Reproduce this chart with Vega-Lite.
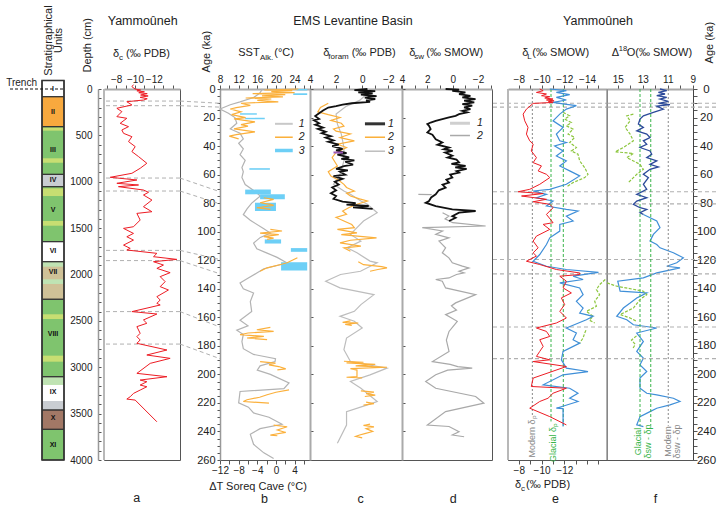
{
"$schema":"https://vega.github.io/schema/vega-lite/v6.json",
"padding":{"left":6,"top":5,"right":0,"bottom":0},
"config":{"font":"Liberation Sans","view":{"stroke":"#555","strokeWidth":1},
"axis":{"grid":false,"labelFont":"Liberation Sans","labelFontSize":10,"labelColor":"#222","tickColor":"#555","tickSize":4,"domainColor":"#aaa","domainWidth":2,"labelPadding":1,"labelFlush":false,"labelOverlap":false},
"text":{"font":"Liberation Sans","color":"#222"}},
"datasets":{
"strat":[{"unit":"I","top":-92,"bottom":83,"kind":"white","lab":-5},{"unit":"II","top":83,"bottom":406,"kind":"orange","lab":248},{"unit":"III","top":406,"bottom":920,"kind":"green","lab":658},{"unit":"IV","top":920,"bottom":1053,"kind":"grey","lab":981},{"unit":"V","top":1053,"bottom":1646,"kind":"green","lab":1305},{"unit":"VI","top":1646,"bottom":1862,"kind":"white","lab":1747},{"unit":"VII","top":1862,"bottom":2267,"kind":"tan","lab":1973},{"unit":"VIII","top":2267,"bottom":3102,"kind":"green","lab":2642},{"unit":"IX","top":3102,"bottom":3461,"kind":"white","lab":3267},{"unit":"X","top":3461,"bottom":3669,"kind":"brown","lab":3547},{"unit":"XI","top":3669,"bottom":4000,"kind":"green","lab":3838}],
"bands":[{"top":416,"bottom":449,"kind":"ygreen"},{"top":747,"bottom":795,"kind":"ygreen"},{"top":1071,"bottom":1154,"kind":"ygreen"},{"top":1423,"bottom":1474,"kind":"ygreen"},{"top":1862,"bottom":1916,"kind":"pgreen"},{"top":2052,"bottom":2102,"kind":"pgreen"},{"top":2429,"bottom":2480,"kind":"ygreen"},{"top":2875,"bottom":2940,"kind":"ygreen"},{"top":3102,"bottom":3191,"kind":"pgreen"},{"top":3364,"bottom":3461,"kind":"grey"}],
"ties":[{"depth":130,"age":10},{"depth":180,"age":12.7},{"depth":960,"age":72},{"depth":1100,"age":80.5},{"depth":1740,"age":119.5},{"depth":1850,"age":129.5},{"depth":2400,"age":166.8},{"depth":2750,"age":189}],
"a":[{"d":-47,"v":-9.84},{"d":-25,"v":-9.67},{"d":0,"v":-10.0},{"d":11,"v":-10.6},{"d":20,"v":-10.2},{"d":30,"v":-11.0},{"d":40,"v":-10.4},{"d":50,"v":-11.3},{"d":65,"v":-10.6},{"d":75,"v":-11.4},{"d":90,"v":-10.55},{"d":105,"v":-11.3},{"d":119,"v":-10.9},{"d":137,"v":-9.13},{"d":172,"v":-9.67},{"d":208,"v":-8.07},{"d":244,"v":-8.6},{"d":298,"v":-8.07},{"d":316,"v":-9.13},{"d":370,"v":-8.42},{"d":406,"v":-9.31},{"d":442,"v":-8.6},{"d":478,"v":-8.78},{"d":514,"v":-9.67},{"d":567,"v":-9.31},{"d":621,"v":-10.02},{"d":675,"v":-9.67},{"d":729,"v":-10.38},{"d":801,"v":-11.26},{"d":855,"v":-10.55},{"d":909,"v":-9.67},{"d":952,"v":-7.36},{"d":981,"v":-10.2},{"d":1017,"v":-8.07},{"d":1035,"v":-10.38},{"d":1053,"v":-8.24},{"d":1089,"v":-10.9},{"d":1114,"v":-11.44},{"d":1143,"v":-10.9},{"d":1197,"v":-11.8},{"d":1269,"v":-10.9},{"d":1323,"v":-11.8},{"d":1341,"v":-10.2},{"d":1413,"v":-10.55},{"d":1485,"v":-9.84},{"d":1503,"v":-8.78},{"d":1557,"v":-9.84},{"d":1593,"v":-9.13},{"d":1629,"v":-9.84},{"d":1683,"v":-8.78},{"d":1718,"v":-9.49},{"d":1736,"v":-9.13},{"d":1772,"v":-12.33},{"d":1808,"v":-11.97},{"d":1837,"v":-14.45},{"d":1862,"v":-11.97},{"d":1898,"v":-13.03},{"d":1934,"v":-12.33},{"d":1980,"v":-13.74},{"d":2023,"v":-12.68},{"d":2077,"v":-13.21},{"d":2131,"v":-12.68},{"d":2167,"v":-13.56},{"d":2239,"v":-12.33},{"d":2275,"v":-12.68},{"d":2311,"v":-12.33},{"d":2329,"v":-12.68},{"d":2400,"v":-9.67},{"d":2426,"v":-12.33},{"d":2490,"v":-10.9},{"d":2526,"v":-11.26},{"d":2562,"v":-10.2},{"d":2634,"v":-10.55},{"d":2670,"v":-10.2},{"d":2706,"v":-10.55},{"d":2742,"v":-10.2},{"d":2814,"v":-13.4},{"d":2868,"v":-11.26},{"d":2904,"v":-13.74},{"d":2958,"v":-11.62},{"d":3066,"v":-10.2},{"d":3102,"v":-13.4},{"d":3138,"v":-10.55},{"d":3156,"v":-11.26},{"d":3192,"v":-10.55},{"d":3210,"v":-11.26},{"d":3246,"v":-10.55},{"d":3282,"v":-9.84},{"d":3318,"v":-9.49},{"d":3343,"v":-9.13},{"d":3354,"v":-10.02},{"d":3588,"v":-12.33}],
"b_dt":[{"age":0,"t":-2.9},{"age":3,"t":-3.5},{"age":6,"t":-4.8},{"age":9,"t":-7.7},{"age":11,"t":-9.8},{"age":14,"t":-12},{"age":17,"t":-10.2},{"age":20,"t":-8.8},{"age":24,"t":-8.4},{"age":28,"t":-9.8},{"age":31,"t":-7.7},{"age":35,"t":-7.0},{"age":38,"t":-8.0},{"age":42,"t":-7.0},{"age":46,"t":-7.7},{"age":50,"t":-6.6},{"age":55,"t":-7.3},{"age":58,"t":-7.0},{"age":62,"t":-7.3},{"age":67,"t":-6.6},{"age":72,"t":-4.4},{"age":75,"t":-3.35},{"age":80,"t":-5.2},{"age":84,"t":-6.2},{"age":88,"t":-7.0},{"age":92,"t":-5.5},{"age":98,"t":-2.6},{"age":101,"t":-1.2},{"age":104,"t":-3.35},{"age":108,"t":-4.8},{"age":112,"t":-4.1},{"age":115,"t":-1.9},{"age":118,"t":0.25},{"age":122,"t":2.4},{"age":126,"t":-2.6},{"age":129,"t":-4.1},{"age":133,"t":-6.2},{"age":136,"t":-7.7},{"age":140,"t":-7.0},{"age":143,"t":-4.8},{"age":149,"t":-5.5},{"age":156,"t":-5.2},{"age":162,"t":-7.7},{"age":166,"t":-6.0},{"age":169,"t":-8.4},{"age":172,"t":-7.0},{"age":177,"t":-7.3},{"age":182,"t":-7.0},{"age":186,"t":-4.8},{"age":189,"t":-0.1},{"age":191,"t":-0.2},{"age":194,"t":-3.4},{"age":197,"t":-4.0},{"age":200,"t":-1.2},{"age":206,"t":2.8},{"age":210,"t":1.7},{"age":212,"t":-7.7},{"age":220,"t":-8.0},{"age":223,"t":-5.9},{"age":227,"t":-4.8},{"age":230,"t":-1.5},{"age":235,"t":1.3},{"age":238,"t":-3.4},{"age":242,"t":-5.5},{"age":249,"t":-4.8},{"age":255,"t":-2.6},{"age":259,"t":-0.5}],
"b_sst":[{"s":1,"age":0,"v":24.8},{"s":1,"age":0.7,"v":17.5},{"s":1,"age":1.2,"v":23.5},{"s":1,"age":1.8,"v":19},{"s":1,"age":2.5,"v":24},{"s":1,"age":3.2,"v":15},{"s":1,"age":4,"v":22},{"s":1,"age":4.8,"v":17},{"s":1,"age":5.5,"v":21.5},{"s":1,"age":6.3,"v":13.5},{"s":1,"age":7,"v":19},{"s":1,"age":8,"v":16},{"s":1,"age":9,"v":20.5},{"s":1,"age":10,"v":12.5},{"s":1,"age":11.5,"v":14.5},{"s":1,"age":13,"v":11.5},{"s":1,"age":14,"v":10.2},{"s":1,"age":16,"v":12.5},{"s":1,"age":18,"v":10.5},{"s":1,"age":20,"v":13.5},{"s":1,"age":21,"v":11},{"s":1,"age":23,"v":15.5},{"s":1,"age":25,"v":12.5},{"s":1,"age":26,"v":14},{"s":1,"age":28,"v":11},{"s":1,"age":30,"v":15.5},{"s":1,"age":32,"v":11.5},{"s":1,"age":33,"v":10},{"s":1,"age":35,"v":12},
{"s":2,"age":76.2,"v":17.4},{"s":2,"age":77.3,"v":19.5},{"s":2,"age":79.7,"v":16.6},{"s":2,"age":80.8,"v":18.8},{"s":2,"age":81.5,"v":19.5},{"s":2,"age":83.2,"v":15.9},{"s":2,"age":84.4,"v":18.8},
{"s":3,"age":98.4,"v":18.8},{"s":3,"age":99.5,"v":21.3},{"s":3,"age":101,"v":16.6},{"s":3,"age":102,"v":20.6},{"s":3,"age":103.5,"v":17.4},{"s":3,"age":104.5,"v":19.5},{"s":3,"age":105.4,"v":18.1},
{"s":4,"age":118.3,"v":24.6},{"s":4,"age":120,"v":23.5},{"s":4,"age":121.8,"v":22.4},{"s":4,"age":123,"v":21},{"s":4,"age":125.3,"v":18.1},{"s":4,"age":127.7,"v":16.6},
{"s":5,"age":167.1,"v":18.8},{"s":5,"age":168.7,"v":15.9},{"s":5,"age":169.9,"v":19.5},{"s":5,"age":171,"v":14},{"s":5,"age":172.2,"v":12.3},{"s":5,"age":173.4,"v":17.4},{"s":5,"age":174.5,"v":13.8},{"s":5,"age":175.7,"v":18.1},
{"s":6,"age":191,"v":16.6},{"s":6,"age":192.1,"v":19.9},{"s":6,"age":193.3,"v":18.5},{"s":6,"age":194.5,"v":20.6},{"s":6,"age":196.1,"v":22.1},{"s":6,"age":196.8,"v":20.3},
{"s":7,"age":210.8,"v":22.8},{"s":7,"age":212.5,"v":20},{"s":7,"age":214.3,"v":18.1},{"s":7,"age":216,"v":16.5},{"s":7,"age":217.8,"v":13.8},{"s":7,"age":219,"v":13},{"s":7,"age":220.2,"v":18.5},
{"s":8,"age":235.5,"v":19.5},{"s":8,"age":236.7,"v":22.4},{"s":8,"age":239,"v":20.3},{"s":8,"age":240.7,"v":22.1},{"s":8,"age":242.5,"v":18.8},{"s":8,"age":243,"v":20.3}],
"b_bars":[{"a1":0,"a2":1,"v1":24.4,"v2":26.7},{"a1":3,"a2":4.2,"v1":23.7,"v2":26.7},{"a1":17,"a2":18,"v1":12.3,"v2":15.9},{"a1":20.2,"a2":21.2,"v1":13.4,"v2":17.6},{"a1":55.5,"a2":56.6,"v1":14.3,"v2":18.7},{"a1":70.5,"a2":73.8,"v1":13.4,"v2":18.9},{"a1":73.8,"a2":77.3,"v1":16.6,"v2":21.9},{"a1":79.7,"a2":85.5,"v1":15.5,"v2":20},{"a1":105.4,"a2":108.3,"v1":17.6,"v2":21.1},{"a1":111.5,"a2":114.1,"v1":23.2,"v2":26.7},{"a1":121.4,"a2":127.2,"v1":21.1,"v2":26.7}],
"c_k":[{"age":0,"v":-0.4},{"age":0.8,"v":0.6},{"age":1.5,"v":-1.0},{"age":2.3,"v":0.3},{"age":3,"v":-0.8},{"age":4,"v":0.1},{"age":5,"v":-1.1},{"age":6,"v":-0.2},{"age":7,"v":-1.0},{"age":8,"v":-0.3},{"age":9,"v":-0.6},{"age":10,"v":0.8},{"age":11,"v":1.5},{"age":12,"v":2.0},{"age":13,"v":2.6},{"age":15,"v":3.0},{"age":17,"v":3.3},{"age":19,"v":3.6},{"age":21,"v":3.3},{"age":22,"v":3.7},{"age":24,"v":3.3},{"age":25,"v":3.6},{"age":27,"v":3.0},{"age":28,"v":3.4},{"age":30,"v":2.8},{"age":31,"v":3.1},{"age":33,"v":2.4},{"age":34,"v":2.8},{"age":36,"v":2.2},{"age":37,"v":2.6},{"age":39,"v":1.8},{"age":40,"v":2.3},{"age":42,"v":1.5},{"age":43,"v":2.0},{"age":45,"v":1.2},{"age":46,"v":1.9},{"age":48,"v":1.0},{"age":49,"v":1.6},{"age":50,"v":0.6},{"age":51,"v":1.3},{"age":53,"v":0.7},{"age":54,"v":1.4},{"age":56,"v":2.0},{"age":57,"v":1.1},{"age":58,"v":1.7},{"age":60,"v":1.3},{"age":61,"v":2.2},{"age":63,"v":1.5},{"age":65,"v":2.1},{"age":67,"v":1.8},{"age":69,"v":2.3},{"age":71,"v":2.0},{"age":73,"v":2.4},{"age":75,"v":2.0},{"age":77,"v":2.2},{"age":79,"v":1.5},{"age":80,"v":0.5},{"age":81,"v":1.2},{"age":82,"v":-0.5},{"age":83,"v":0.7},{"age":84,"v":-0.8}],
"c_o":[{"s":1,"age":10,"v":2.6},{"s":1,"age":13,"v":3.2},{"s":1,"age":16,"v":3.4},{"s":1,"age":18,"v":2.6},{"s":1,"age":20,"v":1.7},{"s":1,"age":22,"v":2.4},{"s":1,"age":24,"v":1.6},{"s":1,"age":26,"v":1.4},{"s":1,"age":28,"v":2.2},{"s":1,"age":29.5,"v":2.0},{"s":1,"age":31.5,"v":0.9},{"s":1,"age":34,"v":1.7},{"s":1,"age":36.3,"v":0.6},{"s":1,"age":38.7,"v":1.9},{"s":1,"age":41,"v":1.2},{"s":1,"age":44.5,"v":2.0},{"s":1,"age":48,"v":2.3},{"s":1,"age":51,"v":2.1},{"s":1,"age":54,"v":1.9},{"s":1,"age":58,"v":2.6},{"s":1,"age":61,"v":2.4},{"s":1,"age":64,"v":1.8},{"s":1,"age":66.8,"v":1.4},{"s":1,"age":69,"v":1.2},{"s":1,"age":71.5,"v":0.6},{"s":1,"age":73,"v":1.2},{"s":1,"age":75,"v":0.9},{"s":1,"age":77,"v":0.2},{"s":1,"age":78.5,"v":-0.4},{"s":1,"age":80.8,"v":0.4},{"s":1,"age":83,"v":1.0},{"s":1,"age":85.5,"v":1.5},{"s":1,"age":87.8,"v":1.2},{"s":1,"age":90,"v":2.0},{"s":1,"age":92.5,"v":1.4},{"s":1,"age":95,"v":0.8},{"s":1,"age":97.2,"v":0.6},{"s":1,"age":98.4,"v":1.9},{"s":1,"age":100.8,"v":0.4},{"s":1,"age":102,"v":1.6},{"s":1,"age":104.3,"v":-1.1},{"s":1,"age":106,"v":0.9},{"s":1,"age":107.8,"v":1.7},{"s":1,"age":110.1,"v":0.1},{"s":1,"age":111.3,"v":1.4},{"s":1,"age":113.7,"v":0.9},
{"s":2,"age":121,"v":0.3},{"s":2,"age":123.1,"v":-0.1},{"s":2,"age":124.5,"v":-1.5},{"s":2,"age":125.4,"v":-1.9},{"s":2,"age":126.5,"v":-1.2},{"s":2,"age":127.7,"v":-0.6},
{"s":3,"age":162.5,"v":0.9},{"s":3,"age":163.5,"v":1.5},{"s":3,"age":164,"v":0.3},{"s":3,"age":165,"v":1.3},{"s":3,"age":165.7,"v":0.8},
{"s":4,"age":190.8,"v":1.4},{"s":4,"age":191.5,"v":-0.1},{"s":4,"age":192,"v":1.2},{"s":4,"age":193,"v":-1.0},{"s":4,"age":194,"v":0.5},{"s":4,"age":195,"v":-1.9},{"s":4,"age":196,"v":0.9},{"s":4,"age":197,"v":0.4},{"s":4,"age":201.5,"v":0.4},{"s":4,"age":202,"v":1.2},{"s":4,"age":202.5,"v":0.0},
{"s":5,"age":211.5,"v":0.1},{"s":5,"age":212.5,"v":-0.9},{"s":5,"age":213.5,"v":-0.3},{"s":5,"age":214.5,"v":-1.0},{"s":5,"age":215.5,"v":-0.2},
{"s":6,"age":219.5,"v":-0.3},{"s":6,"age":220.5,"v":-0.9},{"s":6,"age":221.5,"v":-0.1},
{"s":7,"age":234.8,"v":-0.6},{"s":7,"age":235.8,"v":-0.1},{"s":7,"age":236.8,"v":-0.9},{"s":7,"age":238,"v":-0.3},{"s":7,"age":240,"v":-0.8},{"s":7,"age":241.5,"v":-0.2},{"s":7,"age":242.5,"v":0.2},{"s":7,"age":243.5,"v":0.5},{"s":7,"age":244.5,"v":0.0}],
"c_g":[{"age":0,"v":-0.5},{"age":4,"v":-0.3},{"age":8,"v":0.2},{"age":12,"v":1.2},{"age":17.6,"v":2.0},{"age":24.6,"v":1.9},{"age":31.6,"v":1.6},{"age":41,"v":1.4},{"age":50.4,"v":1.4},{"age":59.8,"v":1.7},{"age":66.8,"v":2.2},{"age":71.5,"v":1.4},{"age":73.8,"v":0.9},{"age":78.5,"v":0.1},{"age":80.8,"v":-0.4},{"age":86.7,"v":-1.15},{"age":92.5,"v":-0.1},{"age":97.2,"v":0.4},{"age":101.9,"v":0.9},{"age":106.6,"v":0.1},{"age":111.3,"v":1.16},{"age":114.8,"v":0.4},{"age":120.6,"v":-0.6},{"age":121.8,"v":-1.15},{"age":127.7,"v":0.13},{"age":130,"v":1.66},{"age":134.7,"v":2.8},{"age":139.4,"v":1.7},{"age":144.1,"v":-0.9},{"age":151.1,"v":0.1},{"age":155.8,"v":0.6},{"age":159.3,"v":1.7},{"age":162.8,"v":0.6},{"age":167.5,"v":0.0},{"age":174.5,"v":1.2},{"age":182.7,"v":1.4},{"age":191,"v":0.9},{"age":195.6,"v":-1.9},{"age":200.3,"v":-0.6},{"age":205,"v":0.9},{"age":209.7,"v":0.1},{"age":219,"v":-1.15},{"age":221.4,"v":-0.4},{"age":226.1,"v":1.2},{"age":235.5,"v":1.2},{"age":248.3,"v":1.9}],
"d_k":[{"age":0,"v":0.56},{"age":0.4,"v":-0.5},{"age":1.3,"v":0.03},{"age":2.4,"v":-1.0},{"age":3.6,"v":-0.5},{"age":4.8,"v":-1.4},{"age":5.9,"v":-0.76},{"age":7.1,"v":-1.8},{"age":8.2,"v":-0.9},{"age":9.4,"v":-1.7},{"age":10.6,"v":-0.76},{"age":11.7,"v":-1.54},{"age":12.9,"v":-0.9},{"age":14.1,"v":-1.4},{"age":15.3,"v":-0.76},{"age":16.4,"v":-1.15},{"age":17.6,"v":-0.5},{"age":18.8,"v":-0.23},{"age":19.9,"v":0.29},{"age":21.1,"v":0.82},{"age":22.3,"v":1.34},{"age":23.5,"v":1.74},{"age":24.6,"v":2.0},{"age":25.8,"v":1.87},{"age":28.1,"v":1.74},{"age":30.5,"v":2.0},{"age":32,"v":1.6},{"age":35.2,"v":1.34},{"age":37.5,"v":0.82},{"age":39,"v":1.2},{"age":41,"v":0.29},{"age":42.2,"v":0.7},{"age":43.4,"v":0.0},{"age":44.5,"v":0.6},{"age":46.8,"v":0.03},{"age":48,"v":0.4},{"age":49.5,"v":-0.3},{"age":51.5,"v":-0.5},{"age":52.5,"v":0.1},{"age":53.9,"v":-1.02},{"age":55,"v":-0.2},{"age":56,"v":-1.1},{"age":57.5,"v":-0.3},{"age":58.6,"v":-0.5},{"age":60,"v":0.2},{"age":62.1,"v":0.03},{"age":63.5,"v":0.5},{"age":65.6,"v":0.29},{"age":67,"v":0.8},{"age":69.1,"v":0.56},{"age":71,"v":1.1},{"age":73.8,"v":1.34},{"age":76,"v":1.7},{"age":78.5,"v":1.87},{"age":79.7,"v":2.13},{"age":82,"v":1.34},{"age":84.4,"v":0.03},{"age":85.5,"v":-1.81},{"age":86.7,"v":-0.5},{"age":89.1,"v":0.03},{"age":90.2,"v":-0.23},{"age":92.5,"v":0.29}],
"d_g":[{"s":1,"age":73.8,"v":2.71},{"s":1,"age":74.0,"v":1.66},{"s":2,"age":86.7,"v":0.8},{"s":2,"age":89,"v":0.3},{"s":2,"age":91,"v":0.6},{"s":2,"age":93.7,"v":0.0},{"s":2,"age":96,"v":-2.6},{"s":2,"age":97.2,"v":2.4},{"s":2,"age":99.5,"v":0.8},{"s":2,"age":101.9,"v":1.34},{"s":2,"age":104.3,"v":0.3},{"s":2,"age":106.6,"v":1.08},{"s":2,"age":111.3,"v":0.56},{"s":2,"age":114.8,"v":0.82},{"s":2,"age":118.3,"v":0.3},{"s":2,"age":121.8,"v":0.03},{"s":2,"age":124.1,"v":-0.76},{"s":2,"age":125.4,"v":-1.28},{"s":2,"age":127.7,"v":-0.5},{"s":2,"age":128.9,"v":-0.9},{"s":2,"age":130,"v":-0.3},{"s":2,"age":132.4,"v":0.3},{"s":2,"age":133.5,"v":1.34},{"s":2,"age":134.7,"v":0.82},{"s":2,"age":139.4,"v":0.56},{"s":2,"age":144.1,"v":-1.81},{"s":2,"age":149.9,"v":-0.23},{"s":2,"age":152,"v":0.1},{"s":2,"age":155,"v":-0.3},{"s":2,"age":158.1,"v":0.56},{"s":2,"age":162.8,"v":-0.36},{"s":2,"age":169.9,"v":0.29},{"s":2,"age":176,"v":0.5},{"s":2,"age":183.9,"v":0.29},{"s":2,"age":191,"v":1.6},{"s":2,"age":193,"v":0.2},{"s":2,"age":194.5,"v":-0.4},{"s":2,"age":195.6,"v":-1.54},{"s":2,"age":197,"v":0.4},{"s":2,"age":200.3,"v":1.34},{"s":2,"age":205,"v":2.13},{"s":2,"age":209.7,"v":1.34},{"s":2,"age":215.5,"v":-1.81},{"s":2,"age":220.2,"v":-2.46},{"s":2,"age":226.1,"v":0.56},{"s":2,"age":235.5,"v":2.0},{"s":2,"age":236.5,"v":0.29},{"s":2,"age":240.2,"v":-0.5},{"s":2,"age":242.5,"v":0.03},{"s":2,"age":243.7,"v":-0.9}],
"e_r":[{"age":0,"v":-9.84},{"age":1.2,"v":-10.14},{"age":2.4,"v":-9.55},{"age":3.5,"v":-10.43},{"age":4.7,"v":-10.0},{"age":5.4,"v":-10.72},{"age":6.3,"v":-10.28},{"age":7.05,"v":-11.01},{"age":7.7,"v":-10.43},{"age":8.3,"v":-11.1},{"age":8.9,"v":-10.6},{"age":9.4,"v":-11.01},{"age":10.1,"v":-9.26},{"age":14.1,"v":-8.67},{"age":17.6,"v":-8.38},{"age":22.3,"v":-8.52},{"age":26.9,"v":-8.81},{"age":31.6,"v":-8.67},{"age":36.3,"v":-8.96},{"age":38.7,"v":-9.26},{"age":43.4,"v":-9.1},{"age":48.1,"v":-9.55},{"age":51.6,"v":-9.26},{"age":53.9,"v":-9.99},{"age":57.4,"v":-9.7},{"age":59.8,"v":-10.43},{"age":62.1,"v":-10.72},{"age":66.8,"v":-9.84},{"age":70.3,"v":-8.96},{"age":72,"v":-7.94},{"age":73.3,"v":-10.14},{"age":75,"v":-8.24},{"age":77.3,"v":-10.43},{"age":79,"v":-9.26},{"age":80.8,"v":-10.72},{"age":83.2,"v":-11.01},{"age":87.9,"v":-10.43},{"age":93.7,"v":-11.01},{"age":94.9,"v":-10.14},{"age":98.4,"v":-10.72},{"age":103.1,"v":-9.55},{"age":106.6,"v":-9.26},{"age":111.3,"v":-9.7},{"age":114.8,"v":-9.26},{"age":117.1,"v":-9.55},{"age":120.7,"v":-8.67},{"age":123,"v":-9.84},{"age":126.5,"v":-11.3},{"age":128.9,"v":-13.35},{"age":130,"v":-13.35},{"age":131.2,"v":-11.6},{"age":134.7,"v":-12.18},{"age":139.4,"v":-11.89},{"age":142.9,"v":-12.62},{"age":146.4,"v":-11.74},{"age":151.1,"v":-12.03},{"age":155.8,"v":-11.6},{"age":160.5,"v":-12.18},{"age":164,"v":-11.3},{"age":167.5,"v":-9.55},{"age":169.9,"v":-10.43},{"age":173.4,"v":-10.72},{"age":175.7,"v":-9.84},{"age":180.4,"v":-10.14},{"age":183.9,"v":-9.84},{"age":187.4,"v":-9.55},{"age":189.8,"v":-10.72},{"age":191,"v":-9.26},{"age":194.5,"v":-12.18},{"age":202.6,"v":-9.26},{"age":208.5,"v":-9.1},{"age":209.7,"v":-12.18},{"age":213.2,"v":-11.01},{"age":216.7,"v":-10.57},{"age":219,"v":-9.84},{"age":223.7,"v":-8.96},{"age":229.6,"v":-10.72},{"age":235.4,"v":-12.18}],
"e_b":[{"age":0,"v":-10.72},{"age":1.2,"v":-12.18},{"age":2.4,"v":-11.3},{"age":4,"v":-12.47},{"age":5.9,"v":-11.3},{"age":7.7,"v":-12.18},{"age":9.4,"v":-11.01},{"age":10.6,"v":-12.03},{"age":11.7,"v":-13.06},{"age":14.1,"v":-12.18},{"age":17.6,"v":-11.6},{"age":22.3,"v":-11.01},{"age":26.9,"v":-11.89},{"age":31.6,"v":-11.3},{"age":36.3,"v":-11.6},{"age":37.5,"v":-12.18},{"age":39.9,"v":-11.15},{"age":43.4,"v":-11.89},{"age":46.9,"v":-11.3},{"age":50.4,"v":-12.18},{"age":53.9,"v":-11.6},{"age":57.4,"v":-12.47},{"age":60.9,"v":-13.35},{"age":66.8,"v":-12.18},{"age":70.3,"v":-10.72},{"age":71.5,"v":-9.26},{"age":73.8,"v":-10.43},{"age":76.2,"v":-9.55},{"age":78.5,"v":-11.01},{"age":82,"v":-10.43},{"age":84.4,"v":-12.18},{"age":85.5,"v":-13.2},{"age":89.1,"v":-12.18},{"age":92.5,"v":-12.77},{"age":94.9,"v":-11.6},{"age":99.6,"v":-11.6},{"age":104.3,"v":-10.72},{"age":109,"v":-10.43},{"age":116,"v":-9.84},{"age":120.7,"v":-9.26},{"age":124.2,"v":-10.43},{"age":126.5,"v":-12.18},{"age":128.5,"v":-15.0},{"age":131.2,"v":-12.77},{"age":133.5,"v":-13.65},{"age":135.9,"v":-11.6},{"age":139.4,"v":-13.35},{"age":144.1,"v":-13.65},{"age":148.8,"v":-13.06},{"age":153.5,"v":-13.65},{"age":157,"v":-13.35},{"age":159.3,"v":-14.53},{"age":161.7,"v":-13.94},{"age":167.5,"v":-12.18},{"age":171,"v":-13.06},{"age":175.7,"v":-12.77},{"age":178.1,"v":-13.35},{"age":183.9,"v":-11.89},{"age":189.8,"v":-11.74},{"age":195.6,"v":-12.18},{"age":198,"v":-14.08},{"age":200.3,"v":-11.89},{"age":207.3,"v":-10.14},{"age":209.7,"v":-12.47},{"age":213.2,"v":-13.2},{"age":216.7,"v":-12.47},{"age":219,"v":-13.2},{"age":223.7,"v":-11.3},{"age":224,"v":-11.89},{"age":230.7,"v":-11.89},{"age":236.6,"v":-11.89}],
"e_g":[{"s":1,"age":16.4,"v":-11.89},{"s":1,"age":18.8,"v":-12.47},{"s":1,"age":21.1,"v":-12.03},{"s":1,"age":23.5,"v":-12.62},{"s":1,"age":25.8,"v":-12.18},{"s":1,"age":28.1,"v":-12.77},{"s":1,"age":31.6,"v":-12.33},{"s":1,"age":33.9,"v":-12.91},{"s":1,"age":37.5,"v":-12.47},{"s":1,"age":41,"v":-13.06},{"s":1,"age":43.4,"v":-12.62},{"s":1,"age":45.7,"v":-13.2},{"s":1,"age":50.4,"v":-13.35},{"s":1,"age":55.1,"v":-13.79},{"s":1,"age":59.8,"v":-14.08},{"s":1,"age":62.1,"v":-13.79},{"s":1,"age":65.6,"v":-12.77},{"s":1,"age":68.7,"v":-12.18},
{"s":2,"age":133.5,"v":-15.6},{"s":2,"age":137.1,"v":-15.1},{"s":2,"age":140.6,"v":-14.82},{"s":2,"age":144.1,"v":-15.1},{"s":2,"age":148.8,"v":-14.67},{"s":2,"age":152.3,"v":-14.82},{"s":2,"age":155.8,"v":-13.94},{"s":2,"age":159.3,"v":-14.53},{"s":2,"age":162,"v":-14.2},{"s":2,"age":164,"v":-14.67},
{"s":3,"age":169,"v":-13.9},{"s":3,"age":171,"v":-13.79},{"s":3,"age":174.5,"v":-13.65},{"s":3,"age":178.1,"v":-13.35}],
"f_k":[{"age":0,"v":11.62},{"age":1.2,"v":11.08},{"age":2.4,"v":11.75},{"age":3.5,"v":11.22},{"age":4.7,"v":11.88},{"age":5.9,"v":11.08},{"age":7.05,"v":11.62},{"age":8.7,"v":10.95},{"age":10.1,"v":11.75},{"age":11,"v":10.82},{"age":12,"v":11.88},{"age":14.1,"v":11.35},{"age":16.4,"v":12.15},{"age":18.8,"v":12.95},{"age":21.1,"v":13.22},{"age":24.6,"v":13.35},{"age":26.9,"v":12.95},{"age":29.3,"v":13.48},{"age":31.6,"v":12.68},{"age":34,"v":12.42},{"age":36.3,"v":12.95},{"age":38.7,"v":12.68},{"age":41,"v":13.22},{"age":43.4,"v":12.42},{"age":45.7,"v":12.28},{"age":48.1,"v":12.68},{"age":50.4,"v":11.88},{"age":52.8,"v":12.42},{"age":54.6,"v":11.75},{"age":56.3,"v":12.42},{"age":59.8,"v":12.95},{"age":62.1,"v":12.55},{"age":66.8,"v":12.95},{"age":70.3,"v":12.68},{"age":73.8,"v":13.48},{"age":76.2,"v":12.68},{"age":78.5,"v":13.48},{"age":80.8,"v":13.75},{"age":83.2,"v":13.22},{"age":84.4,"v":12.68},{"age":86.7,"v":13.22},{"age":87.9,"v":12.95}],
"f_l":[{"age":87.9,"v":12.95},{"age":92.5,"v":11.88},{"age":97.2,"v":11.62},{"age":101.9,"v":12.15},{"age":106.6,"v":12.42},{"age":109,"v":11.88},{"age":111.3,"v":11.62},{"age":114.8,"v":10.55},{"age":118.3,"v":9.75},{"age":121.8,"v":10.28},{"age":124.2,"v":11.08},{"age":125.4,"v":10.02},{"age":128.9,"v":11.88},{"age":132.4,"v":12.95},{"age":134.7,"v":15.0},{"age":141.7,"v":14.81},{"age":142.9,"v":12.68},{"age":146.4,"v":13.48},{"age":150,"v":14.01},{"age":153.5,"v":14.55},{"age":159.3,"v":15.08},{"age":161.7,"v":14.28},{"age":165.2,"v":13.75},{"age":167.5,"v":11.88},{"age":171,"v":13.48},{"age":176.9,"v":12.95},{"age":183.9,"v":13.48},{"age":188.6,"v":12.95},{"age":193.3,"v":13.22},{"age":198,"v":12.68},{"age":202.6,"v":13.22},{"age":209.7,"v":13.22},{"age":213.2,"v":12.68},{"age":214.4,"v":11.88},{"age":216.7,"v":10.55},{"age":219,"v":10.02},{"age":221.4,"v":10.82},{"age":223.7,"v":11.88},{"age":226.1,"v":12.42},{"age":229.6,"v":13.22},{"age":235.4,"v":13.48},{"age":236.6,"v":12.95}],
"f_g":[{"s":1,"age":17.6,"v":13.75},{"s":1,"age":18.8,"v":14.28},{"s":1,"age":22.3,"v":14.01},{"s":1,"age":26.9,"v":14.41},{"s":1,"age":31.6,"v":14.01},{"s":1,"age":36.3,"v":13.75},{"s":1,"age":41,"v":14.55},{"s":1,"age":44,"v":15.2},{"s":1,"age":45.2,"v":13.75},{"s":1,"age":48.1,"v":14.28},{"s":1,"age":50.4,"v":13.75},{"s":1,"age":52.8,"v":13.22},{"s":1,"age":56.3,"v":12.95},{"s":1,"age":59.8,"v":13.48},{"s":1,"age":62.1,"v":13.75},{"s":1,"age":65.6,"v":14.15},
{"s":2,"age":135.9,"v":15.86},{"s":2,"age":138.2,"v":15.08},{"s":2,"age":141.7,"v":12.95},{"s":2,"age":144.1,"v":12.68},{"s":2,"age":147.6,"v":13.22},{"s":2,"age":153.5,"v":13.75},{"s":2,"age":158.1,"v":14.81},{"s":2,"age":160.5,"v":14.01},{"s":2,"age":162.8,"v":13.48},
{"s":3,"age":173,"v":13.5},{"s":3,"age":176,"v":13.9},{"s":3,"age":179,"v":13.6},{"s":3,"age":182,"v":13.8}]
},
"bounds":"flush","spacing":0,
"hconcat":[
{"width":22,"height":371,"view":{"stroke":null},
"layer":[
{"data":{"name":"strat"},"mark":{"type":"rect","strokeWidth":0},"encoding":{"x":{"datum":0,"type":"quantitative","scale":{"domain":[0,1],"nice":false},"axis":null},"x2":{"datum":1},"y":{"field":"top","type":"quantitative","scale":{"domain":[0,4000],"reverse":true,"nice":false,"zero":false},"axis":null},"y2":{"field":"bottom"},"color":{"field":"kind","type":"nominal","scale":{"domain":["white","orange","green","grey","tan","brown","ygreen","pgreen"],"range":["#ffffff","#f8a93e","#7fc46e","#c9cdd2","#cfc197","#a27866","#c7de72","#bfe3b3"]},"legend":null}}},
{"data":{"name":"bands"},"mark":{"type":"rect","strokeWidth":0},"encoding":{"x":{"datum":0,"type":"quantitative","axis":null},"x2":{"datum":1},"y":{"field":"top","type":"quantitative","axis":null},"y2":{"field":"bottom"},"color":{"field":"kind","type":"nominal","legend":null}}},
{"data":{"name":"strat"},"mark":{"type":"rect","fill":"transparent","stroke":"#333","strokeWidth":1},"encoding":{"x":{"datum":0,"type":"quantitative","axis":null},"x2":{"datum":1},"y":{"field":"top","type":"quantitative","axis":null},"y2":{"field":"bottom"}}},
{"data":{"values":[{}]},"mark":{"type":"rect","fill":"transparent","stroke":"#333","strokeWidth":1.6},"encoding":{"x":{"datum":0,"type":"quantitative","axis":null},"x2":{"datum":1},"y":{"datum":-92,"type":"quantitative","axis":null},"y2":{"datum":4000}}},
{"data":{"name":"strat"},"mark":{"type":"text","fontSize":7,"fontWeight":"bold","color":"#111"},"encoding":{"x":{"datum":0.5,"type":"quantitative","axis":null},"y":{"field":"lab","type":"quantitative","axis":null},"text":{"field":"unit"}}},
{"data":{"values":[{}]},"mark":{"type":"rule","color":"#111","strokeDash":[3,2],"strokeWidth":1},"encoding":{"x":{"datum":-1.4545,"type":"quantitative","axis":null},"x2":{"datum":1},"y":{"datum":0,"type":"quantitative","axis":null}}},
{"data":{"values":[{}]},"mark":{"type":"text","text":"Trench","fontSize":10,"align":"right","baseline":"alphabetic"},"encoding":{"x":{"datum":-0.227,"type":"quantitative","axis":null},"y":{"datum":-27,"type":"quantitative","axis":null}}},
{"data":{"values":[{}]},"mark":{"type":"text","text":"Stratigraphical","fontSize":11,"angle":270,"align":"center","baseline":"middle"},"encoding":{"x":{"datum":0.32,"type":"quantitative","axis":null},"y":{"datum":-523,"type":"quantitative","axis":null}}},
{"data":{"values":[{}]},"mark":{"type":"text","text":"Units","fontSize":11,"angle":270,"align":"center","baseline":"middle"},"encoding":{"x":{"datum":0.77,"type":"quantitative","axis":null},"y":{"datum":-523,"type":"quantitative","axis":null}}}
]},
{"width":40,"height":371,"view":{"stroke":null},"data":{"values":[{}]},"mark":{"type":"point","opacity":0},"encoding":{}},
{"width":76,"height":371,
"resolve":{"axis":{"x":"independent","y":"independent"}},
"layer":[
{"data":{"name":"ties"},"mark":{"type":"rule","color":"#b0b0b0","strokeDash":[4,3],"strokeWidth":1},"encoding":{"y":{"field":"depth","type":"quantitative","scale":{"domain":[0,4000],"reverse":true,"nice":false,"zero":false},"axis":{"orient":"left","offset":6,"values":[0,100,200,300,400,500,600,700,800,900,1000,1100,1200,1300,1400,1500,1600,1700,1800,1900,2000,2100,2200,2300,2400,2500,2600,2700,2800,2900,3000,3100,3200,3300,3400,3500,3600,3700,3800,3900,4000],"labelExpr":"datum.value % 500 === 0 ? datum.label : ''","labelOverlap":false,"format":"d","tickSize":-3,"labelPadding":9,"domainColor":"#999","domainWidth":1.5,"title":null}}}},
{"data":{"name":"a"},"mark":{"type":"line","color":"#ed1c24","strokeWidth":1},"encoding":{"x":{"field":"v","type":"quantitative","scale":{"domain":[-6.7,-14.79],"nice":false,"zero":false},"axis":{"orient":"top","values":[-7,-8,-9,-10,-11,-12,-13,-14],"labelExpr":"datum.value === -8 || datum.value === -10 || datum.value === -12 ? datum.label : ''","labelOverlap":false,"title":null}},"y":{"field":"d","type":"quantitative","axis":null},"order":{"field":"d","type":"quantitative"}}},
{"data":{"values":[{}]},"mark":{"type":"rule","color":"#b8b8b8","strokeWidth":2},"encoding":{"x":{"datum":-6.7,"axis":null}}},
{"data":{"values":[{}]},"mark":{"type":"text","text":"Yammoûneh","fontSize":12.5,"align":"center","baseline":"alphabetic"},"encoding":{"x":{"datum":-10.82,"axis":null},"y":{"datum":-695,"axis":null}}},
{"data":{"values":[{}]},"mark":{"type":"text","text":"δ","fontSize":11,"align":"left","baseline":"alphabetic"},"encoding":{"x":{"datum":-7.66,"axis":null},"y":{"datum":-350,"axis":null}}},
{"data":{"values":[{}]},"mark":{"type":"text","text":"c","fontSize":8,"align":"left","baseline":"alphabetic","dx":6,"dy":3},"encoding":{"x":{"datum":-7.66,"axis":null},"y":{"datum":-350,"axis":null}}},
{"data":{"values":[{}]},"mark":{"type":"text","text":"(‰ PDB)","fontSize":11,"align":"left","baseline":"alphabetic","dx":13},"encoding":{"x":{"datum":-7.66,"axis":null},"y":{"datum":-350,"axis":null}}},
{"data":{"values":[{}]},"mark":{"type":"text","text":"Depth (cm)","fontSize":11,"angle":270,"align":"left","baseline":"middle"},"encoding":{"x":{"datum":-5.0,"axis":null},"y":{"datum":-178,"axis":null}}},
{"data":{"values":[{}]},"mark":{"type":"text","text":"a","fontSize":12.5,"align":"center","baseline":"alphabetic"},"encoding":{"x":{"datum":-10.18,"axis":null},"y":{"datum":4458,"axis":null}}}
]},
{"width":40,"height":371,"view":{"stroke":null},"data":{"values":[{}]},"mark":{"type":"point","opacity":0},"encoding":{}},
{"width":90,"height":371,
"resolve":{"scale":{"x":"independent"},"axis":{"x":"independent","y":"independent"}},
"layer":[
{"data":{"name":"b_dt"},"mark":{"type":"line","color":"#b3b3b3","strokeWidth":1.2},"encoding":{"x":{"field":"t","type":"quantitative","scale":{"domain":[-12,7.3],"nice":false,"zero":false},"axis":{"orient":"bottom","values":[-12,-10,-8,-6,-4,-2,0,2,4,6],"labelExpr":"datum.value % 4 === 0 ? datum.label : ''","labelOverlap":false,"domainColor":"#555","domainWidth":1,"title":null}},"y":{"field":"age","type":"quantitative","scale":{"domain":[0,260],"reverse":true,"nice":false,"zero":false},"axis":{"orient":"left","values":[0,5,10,15,20,25,30,35,40,45,50,55,60,65,70,75,80,85,90,95,100,105,110,115,120,125,130,135,140,145,150,155,160,165,170,175,180,185,190,195,200,205,210,215,220,225,230,235,240,245,250,255,260],"labelExpr":"datum.value % 20 === 0 ? datum.label : ''","labelOverlap":false,"tickSize":3,"labelPadding":2,"labelFontSize":11,"domainColor":"#999","domainWidth":1.5,"title":null}},"order":{"field":"age","type":"quantitative"}}},
{"resolve":{"axis":{"x":"independent","y":"independent"}},
"layer":[
{"data":{"name":"b_bars"},"mark":{"type":"rect","color":"#6dcff6"},"encoding":{"x":{"field":"v1","type":"quantitative","scale":{"domain":[8,27.3],"nice":false,"zero":false},"axis":{"orient":"top","values":[8,10,12,14,16,18,20,22,24,26],"labelExpr":"datum.value % 4 === 0 ? datum.label : ''","labelOverlap":false,"title":null}},"x2":{"field":"v2"},"y":{"field":"a1","type":"quantitative","axis":null},"y2":{"field":"a2"}}},
{"data":{"name":"b_sst"},"mark":{"type":"line","color":"#fbb03b","strokeWidth":1.2},"encoding":{"x":{"field":"v","type":"quantitative","axis":null},"y":{"field":"age","type":"quantitative","axis":null},"detail":{"field":"s"},"order":{"field":"age","type":"quantitative"}}},
{"data":{"name":"ties"},"transform":[{"calculate":"datum.depth*0.065","as":"dy"}],"mark":{"type":"rule","color":"#b0b0b0","strokeDash":[4,3],"strokeWidth":1},"encoding":{"x":{"datum":-0.58,"axis":null},"x2":{"datum":8},"y":{"field":"dy","type":"quantitative","axis":null},"y2":{"field":"age"}}},
{"data":{"values":[{}]},"mark":{"type":"rule","color":"#c8c8c8","strokeWidth":2},"encoding":{"x":{"datum":19.8,"axis":null},"x2":{"datum":23.6},"y":{"datum":24.4,"axis":null}}},
{"data":{"values":[{}]},"mark":{"type":"rule","color":"#fbb03b","strokeWidth":1.5},"encoding":{"x":{"datum":19.8,"axis":null},"x2":{"datum":23.6},"y":{"datum":33.8,"axis":null}}},
{"data":{"values":[{}]},"mark":{"type":"rect","color":"#6dcff6"},"encoding":{"x":{"datum":19.8,"axis":null},"x2":{"datum":23.6},"y":{"datum":41.9,"axis":null},"y2":{"datum":44.3}}},
{"data":{"values":[{}]},"mark":{"type":"text","text":"1","fontSize":10.5,"fontStyle":"italic","align":"left","baseline":"middle"},"encoding":{"x":{"datum":24.9,"axis":null},"y":{"datum":24.4,"axis":null}}},
{"data":{"values":[{}]},"mark":{"type":"text","text":"2","fontSize":10.5,"fontStyle":"italic","align":"left","baseline":"middle"},"encoding":{"x":{"datum":24.9,"axis":null},"y":{"datum":33.8,"axis":null}}},
{"data":{"values":[{}]},"mark":{"type":"text","text":"3","fontSize":10.5,"fontStyle":"italic","align":"left","baseline":"middle"},"encoding":{"x":{"datum":24.9,"axis":null},"y":{"datum":43.1,"axis":null}}},
{"data":{"values":[{}]},"mark":{"type":"text","text":"SST","fontSize":11,"align":"left","baseline":"alphabetic"},"encoding":{"x":{"datum":11.92,"axis":null},"y":{"datum":-22.78,"axis":null}}},
{"data":{"values":[{}]},"mark":{"type":"text","text":"Alk.","fontSize":8,"align":"left","baseline":"alphabetic","dx":21.7,"dy":4},"encoding":{"x":{"datum":11.92,"axis":null},"y":{"datum":-22.78,"axis":null}}},
{"data":{"values":[{}]},"mark":{"type":"text","text":"(°C)","fontSize":11,"align":"left","baseline":"alphabetic","dx":36},"encoding":{"x":{"datum":11.92,"axis":null},"y":{"datum":-22.78,"axis":null}}},
{"data":{"values":[{}]},"mark":{"type":"text","text":"Age (ka)","fontSize":11,"angle":270,"align":"left","baseline":"middle"},"encoding":{"x":{"datum":5.21,"axis":null},"y":{"datum":-11.6,"axis":null}}},
{"data":{"values":[{}]},"mark":{"type":"text","text":"ΔT Soreq Cave (°C)","fontSize":11,"align":"center","baseline":"alphabetic"},"encoding":{"x":{"datum":16.15,"axis":null},"y":{"datum":280.7,"axis":null}}},
{"data":{"values":[{}]},"mark":{"type":"text","text":"b","fontSize":12.5,"align":"center","baseline":"alphabetic"},"encoding":{"x":{"datum":17.54,"axis":null},"y":{"datum":289.8,"axis":null}}}
]}
]},
{"width":92,"height":371,
"resolve":{"axis":{"x":"independent","y":"independent"}},
"layer":[
{"data":{"name":"c_g"},"mark":{"type":"line","color":"#bdbdbd","strokeWidth":1.2},"encoding":{"x":{"field":"v","type":"quantitative","scale":{"domain":[4,-3.05],"nice":false,"zero":false},"axis":{"orient":"top","values":[4,3,2,1,0,-1,-2,-3],"labelExpr":"datum.value % 2 === 0 ? datum.label : ''","labelOverlap":false,"title":null}},"y":{"field":"age","type":"quantitative","scale":{"domain":[0,260],"reverse":true,"nice":false,"zero":false},"axis":{"orient":"left","labels":false,"values":[0,20,40,60,80,100,120,140,160,180,200,220,240,260],"tickSize":-3,"title":null}},"order":{"field":"age","type":"quantitative"}}},
{"data":{"name":"c_o"},"mark":{"type":"line","color":"#fbb03b","strokeWidth":1.2},"encoding":{"x":{"field":"v","type":"quantitative","axis":null},"y":{"field":"age","type":"quantitative","axis":null},"detail":{"field":"s"},"order":{"field":"age","type":"quantitative"}}},
{"data":{"name":"c_k"},"mark":{"type":"line","color":"#111","strokeWidth":1.8},"encoding":{"x":{"field":"v","type":"quantitative","axis":null},"y":{"field":"age","type":"quantitative","axis":null},"order":{"field":"age","type":"quantitative"}}},
{"data":{"values":[{}]},"mark":{"type":"rule","color":"#9b59b6","strokeWidth":2},"encoding":{"x":{"datum":2.2,"axis":null},"x2":{"datum":1.47},"y":{"datum":44.5,"axis":null}}},
{"data":{"values":[{}]},"mark":{"type":"rule","color":"#333","strokeWidth":3},"encoding":{"x":{"datum":-0.21,"axis":null},"x2":{"datum":-1.75},"y":{"datum":24.4,"axis":null}}},
{"data":{"values":[{}]},"mark":{"type":"rule","color":"#fbb03b","strokeWidth":1.5},"encoding":{"x":{"datum":-0.21,"axis":null},"x2":{"datum":-1.75},"y":{"datum":33.8,"axis":null}}},
{"data":{"values":[{}]},"mark":{"type":"rule","color":"#bdbdbd","strokeWidth":1.5},"encoding":{"x":{"datum":-0.21,"axis":null},"x2":{"datum":-1.75},"y":{"datum":43.6,"axis":null}}},
{"data":{"values":[{}]},"mark":{"type":"text","text":"1","fontSize":10.5,"fontStyle":"italic","align":"left","baseline":"middle"},"encoding":{"x":{"datum":-1.98,"axis":null},"y":{"datum":24.4,"axis":null}}},
{"data":{"values":[{}]},"mark":{"type":"text","text":"2","fontSize":10.5,"fontStyle":"italic","align":"left","baseline":"middle"},"encoding":{"x":{"datum":-1.98,"axis":null},"y":{"datum":33.8,"axis":null}}},
{"data":{"values":[{}]},"mark":{"type":"text","text":"3","fontSize":10.5,"fontStyle":"italic","align":"left","baseline":"middle"},"encoding":{"x":{"datum":-1.98,"axis":null},"y":{"datum":43.6,"axis":null}}},
{"data":{"values":[{}]},"mark":{"type":"text","text":"EMS Levantine Basin","fontSize":12.5,"align":"center","baseline":"alphabetic"},"encoding":{"x":{"datum":0.705,"axis":null},"y":{"datum":-45.2,"axis":null}}},
{"data":{"values":[{}]},"mark":{"type":"text","text":"δ","fontSize":11,"align":"left","baseline":"alphabetic"},"encoding":{"x":{"datum":2.98,"axis":null},"y":{"datum":-22.78,"axis":null}}},
{"data":{"values":[{}]},"mark":{"type":"text","text":"foram","fontSize":8,"align":"left","baseline":"alphabetic","dx":5,"dy":3},"encoding":{"x":{"datum":2.98,"axis":null},"y":{"datum":-22.78,"axis":null}}},
{"data":{"values":[{}]},"mark":{"type":"text","text":"(‰ PDB)","fontSize":11,"align":"left","baseline":"alphabetic","dx":28.4},"encoding":{"x":{"datum":2.98,"axis":null},"y":{"datum":-22.78,"axis":null}}},
{"data":{"values":[{}]},"mark":{"type":"text","text":"c","fontSize":12.5,"align":"center","baseline":"alphabetic"},"encoding":{"x":{"datum":0.13,"axis":null},"y":{"datum":289.8,"axis":null}}}
]},
{"width":90,"height":371,
"resolve":{"axis":{"x":"independent","y":"independent"}},
"layer":[
{"data":{"name":"d_g"},"mark":{"type":"line","color":"#a9a9a9","strokeWidth":1.2},"encoding":{"x":{"field":"v","type":"quantitative","scale":{"domain":[4,-3.1],"nice":false,"zero":false},"axis":{"orient":"top","values":[4,3,2,1,0,-1,-2,-3],"labelExpr":"datum.value % 2 === 0 ? datum.label : ''","labelOverlap":false,"title":null}},"y":{"field":"age","type":"quantitative","scale":{"domain":[0,260],"reverse":true,"nice":false,"zero":false},"axis":{"orient":"left","labels":false,"values":[0,20,40,60,80,100,120,140,160,180,200,220,240,260],"tickSize":-3,"title":null}},"detail":{"field":"s"},"order":{"field":"age","type":"quantitative"}}},
{"data":{"name":"d_k"},"mark":{"type":"line","color":"#111","strokeWidth":1.8},"encoding":{"x":{"field":"v","type":"quantitative","axis":null},"y":{"field":"age","type":"quantitative","axis":null},"order":{"field":"age","type":"quantitative"}}},
{"data":{"values":[{}]},"mark":{"type":"rule","color":"#cfcfcf","strokeWidth":3},"encoding":{"x":{"datum":0.21,"axis":null},"x2":{"datum":-1.36},"y":{"datum":24.0,"axis":null}}},
{"data":{"values":[{}]},"mark":{"type":"rule","color":"#a9a9a9","strokeWidth":1.5},"encoding":{"x":{"datum":0.21,"axis":null},"x2":{"datum":-1.36},"y":{"datum":32.6,"axis":null}}},
{"data":{"values":[{}]},"mark":{"type":"text","text":"1","fontSize":10.5,"fontStyle":"italic","align":"left","baseline":"middle"},"encoding":{"x":{"datum":-1.92,"axis":null},"y":{"datum":24.0,"axis":null}}},
{"data":{"values":[{}]},"mark":{"type":"text","text":"2","fontSize":10.5,"fontStyle":"italic","align":"left","baseline":"middle"},"encoding":{"x":{"datum":-1.92,"axis":null},"y":{"datum":32.6,"axis":null}}},
{"data":{"values":[{}]},"mark":{"type":"text","text":"δ","fontSize":11,"align":"left","baseline":"alphabetic"},"encoding":{"x":{"datum":3.42,"axis":null},"y":{"datum":-22.78,"axis":null}}},
{"data":{"values":[{}]},"mark":{"type":"text","text":"sw","fontSize":8,"align":"left","baseline":"alphabetic","dx":5,"dy":3},"encoding":{"x":{"datum":3.42,"axis":null},"y":{"datum":-22.78,"axis":null}}},
{"data":{"values":[{}]},"mark":{"type":"text","text":"(‰ SMOW)","fontSize":11,"align":"left","baseline":"alphabetic","dx":17},"encoding":{"x":{"datum":3.42,"axis":null},"y":{"datum":-22.78,"axis":null}}},
{"data":{"values":[{}]},"mark":{"type":"text","text":"d","fontSize":12.5,"align":"center","baseline":"alphabetic"},"encoding":{"x":{"datum":-0.05,"axis":null},"y":{"datum":289.8,"axis":null}}}
]},
{"width":16,"height":371,"view":{"stroke":null},"data":{"values":[{}]},"mark":{"type":"point","opacity":0},"encoding":{}},
{"width":99,"height":371,
"resolve":{"scale":{"x":"independent"},"axis":{"x":"independent","y":"independent"}},
"layer":[
{"resolve":{"axis":{"x":"independent","y":"independent"}},
"layer":[
{"data":{"name":"ties"},"mark":{"type":"rule","color":"#b0b0b0","strokeDash":[4,3],"strokeWidth":1.2},"encoding":{"x":{"datum":-5.73,"type":"quantitative","scale":{"domain":[-7.05,-15.75],"nice":false,"zero":false},"axis":{"orient":"top","values":[-8,-9,-10,-11,-12,-13,-14,-15],"labelExpr":"datum.value % 2 === 0 ? datum.label : ''","labelOverlap":false,"title":null}},"x2":{"datum":-15.75},"y":{"field":"age","type":"quantitative","scale":{"domain":[0,260],"reverse":true,"nice":false,"zero":false},"axis":null}}},
{"data":{"values":[{}]},"mark":{"type":"rule","color":"#b8b8b8","strokeWidth":2},"encoding":{"x":{"datum":-7.05,"axis":null},"y":{"datum":0,"type":"quantitative","axis":null},"y2":{"datum":260}}},
{"data":{"values":[{}]},"mark":{"type":"rule","color":"#888","strokeDash":[2,2],"strokeWidth":1},"encoding":{"x":{"datum":-9.19,"axis":null},"y":{"datum":0,"type":"quantitative","axis":null},"y2":{"datum":229}}},
{"data":{"values":[{}]},"mark":{"type":"rule","color":"#39b54a","strokeDash":[3,2],"strokeWidth":1},"encoding":{"x":{"datum":-10.83,"axis":null},"y":{"datum":0,"type":"quantitative","axis":null},"y2":{"datum":233}}},
{"data":{"values":[{}]},"mark":{"type":"rule","color":"#39b54a","strokeDash":[3,2],"strokeWidth":1},"encoding":{"x":{"datum":-11.91,"axis":null},"y":{"datum":0,"type":"quantitative","axis":null},"y2":{"datum":236}}},
{"data":{"name":"e_g"},"mark":{"type":"line","color":"#8dc63f","strokeDash":[3,1.5],"strokeWidth":1.2},"encoding":{"x":{"field":"v","type":"quantitative","axis":null},"y":{"field":"age","type":"quantitative","axis":null},"detail":{"field":"s"},"order":{"field":"age","type":"quantitative"}}},
{"data":{"name":"e_b"},"mark":{"type":"line","color":"#3f8fd8","strokeWidth":1.2},"encoding":{"x":{"field":"v","type":"quantitative","axis":null},"y":{"field":"age","type":"quantitative","axis":null},"order":{"field":"age","type":"quantitative"}}},
{"data":{"values":[{}]},"mark":{"type":"text","text":"Yammoûneh","fontSize":12.5,"align":"center","baseline":"alphabetic"},"encoding":{"x":{"datum":-14.96,"axis":null},"y":{"datum":-45.2,"type":"quantitative","axis":null}}},
{"data":{"values":[{}]},"mark":{"type":"text","text":"δ","fontSize":11,"align":"left","baseline":"alphabetic"},"encoding":{"x":{"datum":-8.31,"axis":null},"y":{"datum":-22.78,"type":"quantitative","axis":null}}},
{"data":{"values":[{}]},"mark":{"type":"text","text":"L","fontSize":8,"align":"left","baseline":"alphabetic","dx":5,"dy":3},"encoding":{"x":{"datum":-8.31,"axis":null},"y":{"datum":-22.78,"type":"quantitative","axis":null}}},
{"data":{"values":[{}]},"mark":{"type":"text","text":"(‰ SMOW)","fontSize":11,"align":"left","baseline":"alphabetic","dx":10},"encoding":{"x":{"datum":-8.31,"axis":null},"y":{"datum":-22.78,"type":"quantitative","axis":null}}},
{"data":{"values":[{}]},"mark":{"type":"text","text":"δ","fontSize":11,"align":"left","baseline":"alphabetic"},"encoding":{"x":{"datum":-7.67,"axis":null},"y":{"datum":279.3,"type":"quantitative","axis":null}}},
{"data":{"values":[{}]},"mark":{"type":"text","text":"c","fontSize":8,"align":"left","baseline":"alphabetic","dx":6,"dy":3},"encoding":{"x":{"datum":-7.67,"axis":null},"y":{"datum":279.3,"type":"quantitative","axis":null}}},
{"data":{"values":[{}]},"mark":{"type":"text","text":"(‰ PDB)","fontSize":11,"align":"left","baseline":"alphabetic","dx":11},"encoding":{"x":{"datum":-7.67,"axis":null},"y":{"datum":279.3,"type":"quantitative","axis":null}}},
{"data":{"values":[{}]},"mark":{"type":"text","text":"Modern δₚ","fontSize":9,"color":"#888","angle":270,"align":"center","baseline":"middle"},"encoding":{"x":{"datum":-9.19,"axis":null},"y":{"datum":243.5,"type":"quantitative","axis":null}}},
{"data":{"values":[{}]},"mark":{"type":"text","text":"Glacial δₚ","fontSize":9,"color":"#39b54a","angle":270,"align":"center","baseline":"middle"},"encoding":{"x":{"datum":-11.03,"axis":null},"y":{"datum":247.7,"type":"quantitative","axis":null}}},
{"data":{"values":[{}]},"mark":{"type":"text","text":"e","fontSize":12.5,"align":"center","baseline":"alphabetic"},"encoding":{"x":{"datum":-11.22,"axis":null},"y":{"datum":289.8,"type":"quantitative","axis":null}}}
]},
{"data":{"name":"e_r"},"mark":{"type":"line","color":"#ed1c24","strokeWidth":1},"encoding":{"x":{"field":"v","type":"quantitative","scale":{"domain":[-7.05,-15.75],"nice":false,"zero":false},"axis":{"orient":"bottom","values":[-8,-9,-10,-11,-12,-13,-14,-15],"labelExpr":"datum.value === -8 || datum.value === -10 || datum.value === -12 ? datum.label : ''","labelOverlap":false,"domainColor":"#555","domainWidth":1,"title":null}},"y":{"field":"age","type":"quantitative","axis":null},"order":{"field":"age","type":"quantitative"}}}
]},
{"width":86,"height":371,
"resolve":{"axis":{"x":"independent","y":"independent"}},
"layer":[
{"data":{"name":"f_l"},"mark":{"type":"line","color":"#3f8fd8","strokeWidth":1.2},"encoding":{"x":{"field":"v","type":"quantitative","scale":{"domain":[15.86,8.98],"nice":false,"zero":false},"axis":{"orient":"top","values":[15,14,13,12,11,10,9],"labelExpr":"datum.value % 2 !== 0 ? datum.label : ''","labelOverlap":false,"title":null}},"y":{"field":"age","type":"quantitative","scale":{"domain":[0,260],"reverse":true,"nice":false,"zero":false},"axis":{"orient":"right","values":[0,5,10,15,20,25,30,35,40,45,50,55,60,65,70,75,80,85,90,95,100,105,110,115,120,125,130,135,140,145,150,155,160,165,170,175,180,185,190,195,200,205,210,215,220,225,230,235,240,245,250,255,260],"labelExpr":"datum.value % 20 === 0 ? datum.label : ''","labelOverlap":false,"labelAlign":"center","labelPadding":9,"labelFontSize":11.5,"tickSize":4,"domainColor":"#444","domainWidth":1,"title":null}},"order":{"field":"age","type":"quantitative"}}},
{"data":{"name":"ties"},"mark":{"type":"rule","color":"#b0b0b0","strokeDash":[4,3],"strokeWidth":1.2},"encoding":{"x":{"datum":15.86,"axis":null},"x2":{"datum":6.98},"y":{"field":"age","type":"quantitative","axis":null}}},
{"data":{"values":[{}]},"mark":{"type":"rule","color":"#999","strokeWidth":1.5},"encoding":{"x":{"datum":15.86,"axis":null}}},
{"data":{"values":[{}]},"mark":{"type":"rule","color":"#39b54a","strokeDash":[3,2],"strokeWidth":1},"encoding":{"x":{"datum":13.22,"axis":null},"y":{"datum":0,"axis":null},"y2":{"datum":236}}},
{"data":{"values":[{}]},"mark":{"type":"rule","color":"#39b54a","strokeDash":[3,2],"strokeWidth":1},"encoding":{"x":{"datum":12.36,"axis":null},"y":{"datum":0,"axis":null},"y2":{"datum":236}}},
{"data":{"values":[{}]},"mark":{"type":"rule","color":"#888","strokeDash":[2,2],"strokeWidth":1},"encoding":{"x":{"datum":10.96,"axis":null},"y":{"datum":0,"axis":null},"y2":{"datum":236}}},
{"data":{"name":"f_g"},"mark":{"type":"line","color":"#8dc63f","strokeDash":[3,1.5],"strokeWidth":1.2},"encoding":{"x":{"field":"v","type":"quantitative","axis":null},"y":{"field":"age","type":"quantitative","axis":null},"detail":{"field":"s"},"order":{"field":"age","type":"quantitative"}}},
{"data":{"name":"f_k"},"mark":{"type":"line","color":"#2c4a9a","strokeWidth":1.3},"encoding":{"x":{"field":"v","type":"quantitative","axis":null},"y":{"field":"age","type":"quantitative","axis":null},"order":{"field":"age","type":"quantitative"}}},
{"data":{"values":[{}]},"mark":{"type":"text","text":"Δ","fontSize":11,"align":"left","baseline":"alphabetic"},"encoding":{"x":{"datum":15.48,"axis":null},"y":{"datum":-22.78,"axis":null}}},
{"data":{"values":[{}]},"mark":{"type":"text","text":"18","fontSize":7.5,"align":"left","baseline":"alphabetic","dx":7,"dy":-5},"encoding":{"x":{"datum":15.48,"axis":null},"y":{"datum":-22.78,"axis":null}}},
{"data":{"values":[{}]},"mark":{"type":"text","text":"O(‰ SMOW)","fontSize":11,"align":"left","baseline":"alphabetic","dx":15},"encoding":{"x":{"datum":15.48,"axis":null},"y":{"datum":-22.78,"axis":null}}},
{"data":{"values":[{}]},"mark":{"type":"text","text":"Glacial","fontSize":9,"color":"#39b54a","angle":270,"align":"center","baseline":"middle"},"encoding":{"x":{"datum":13.40,"axis":null},"y":{"datum":247,"axis":null}}},
{"data":{"values":[{}]},"mark":{"type":"text","text":"δsw - δp","fontSize":9,"color":"#39b54a","angle":270,"align":"center","baseline":"middle"},"encoding":{"x":{"datum":12.56,"axis":null},"y":{"datum":247,"axis":null}}},
{"data":{"values":[{}]},"mark":{"type":"text","text":"Modern","fontSize":9,"color":"#888","angle":270,"align":"center","baseline":"middle"},"encoding":{"x":{"datum":10.96,"axis":null},"y":{"datum":247,"axis":null}}},
{"data":{"values":[{}]},"mark":{"type":"text","text":"δsw - δp","fontSize":9,"color":"#888","angle":270,"align":"center","baseline":"middle"},"encoding":{"x":{"datum":10.26,"axis":null},"y":{"datum":247,"axis":null}}},
{"data":{"values":[{}]},"mark":{"type":"text","text":"Age (ka)","fontSize":11,"angle":270,"align":"left","baseline":"middle"},"encoding":{"x":{"datum":7.64,"axis":null},"y":{"datum":-17.9,"axis":null}}},
{"data":{"values":[{}]},"mark":{"type":"text","text":"f","fontSize":12.5,"align":"center","baseline":"alphabetic"},"encoding":{"x":{"datum":11.98,"axis":null},"y":{"datum":289.8,"axis":null}}}
]}
]
}
